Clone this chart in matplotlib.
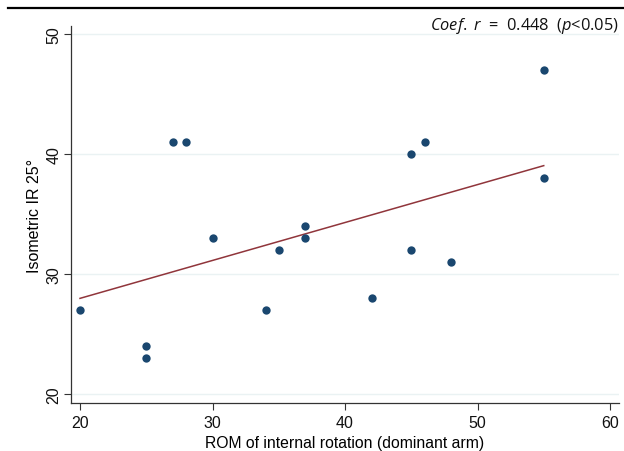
import numpy as np
import matplotlib.pyplot as plt
import matplotlib as mpl
from matplotlib.lines import Line2D

mpl.rcParams['font.family'] = 'Liberation Sans'
mpl.rcParams['mathtext.fontset'] = 'custom'
mpl.rcParams['mathtext.rm'] = 'Open Sans'
mpl.rcParams['mathtext.it'] = 'Open Sans:italic'

rom = [20, 25, 25, 27, 28, 30, 34, 35, 37, 37, 42, 45, 45, 46, 48, 55, 55]
iso = [27, 24, 23, 41, 41, 33, 27, 32, 34, 33, 28, 40, 32, 41, 31, 47, 38]

# fitted line
fit_x = [20, 55]
fit_y = [27.97, 39.03]

fig = plt.figure(figsize=(6.24, 4.52), dpi=100)
ax = fig.add_axes([71/624, 1-404/452, (619-71)/624, (404-27)/452])

ax.set_xlim(20 - 9/13.25, 60 + 9/13.25)
ax.set_ylim(20 - 9/12, 50 + 8/12)

for g in [20, 30, 40, 50]:
    ax.axhline(g, color='#eaf2f3', lw=1, zorder=0)

ax.plot(fit_x, fit_y, color='#90353b', lw=1.1, zorder=2)
ax.scatter(rom, iso, s=36, color='#1a476f', zorder=3, linewidths=0)

ax.set_xticks([20, 30, 40, 50, 60])
ax.set_yticks([20, 30, 40, 50])
ax.set_yticklabels(['20', '30', '40', '50'], rotation=90, va='center')
ax.tick_params(axis='both', direction='out', length=5, width=0.8,
               color='#333333', labelsize=11.5, labelcolor='#111111')
ax.tick_params(axis='x', pad=4)
ax.tick_params(axis='y', pad=2)

for s in ['top', 'right']:
    ax.spines[s].set_visible(False)
for s in ['left', 'bottom']:
    ax.spines[s].set_color('#333333')
    ax.spines[s].set_linewidth(0.9)

ax.set_xlabel('ROM of internal rotation (dominant arm)', fontsize=11.3, labelpad=3)
ax.set_ylabel('Isometric IR 25°', fontsize=11.5, labelpad=3)

fig.text(619/624, 1-30/452, r'$\mathit{Coef.}$ $\mathit{r}$  =  0.448  ($\mathit{p}$<0.05)',
         ha='right', va='baseline', fontsize=11.8, family='Open Sans', color='#111111')

fig.add_artist(Line2D([8/624, 1], [1-9/452, 1-9/452], color='black', lw=1.6,
                      transform=fig.transFigure))

fig.savefig('out.png', dpi=100)
